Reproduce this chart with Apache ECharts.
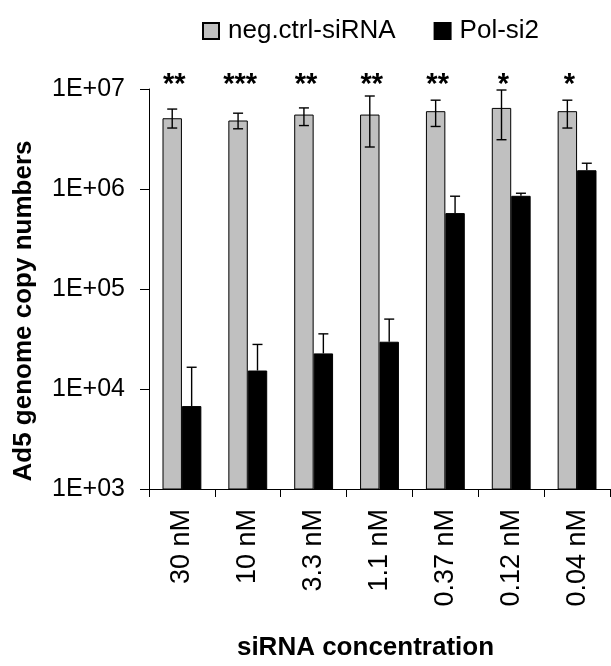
<!DOCTYPE html>
<html><head><meta charset="utf-8">
<script src="https://cdn.jsdelivr.net/npm/echarts@6/dist/echarts.min.js"></script>
<style>html,body{margin:0;padding:0;background:#fff}#c{width:611px;height:666px}</style>
</head><body><div id="c"></div>
<script>
var categories = ['30 nM','10 nM','3.3 nM','1.1 nM','0.37 nM','0.12 nM','0.04 nM'];
var ctrl      = [5.1e6, 4.84e6, 5.55e6, 5.55e6, 6.0e6, 6.47e6, 6.0e6];
var ctrlHigh  = [6.3e6, 5.73e6, 6.47e6, 8.51e6, 7.73e6, 9.77e6, 7.73e6];
var ctrlLow   = [4.07e6, 4.0e6, 4.31e6, 2.63e6, 4.22e6, 3.11e6, 4.07e6];
var pol       = [6.75e3, 1.53e4, 2.27e4, 2.97e4, 5.74e5, 8.55e5, 1.54e6];
var polHigh   = [1.65e4, 2.79e4, 3.56e4, 5.0e4, 8.47e5, 9.07e5, 1.81e6];
var stars     = ['**','***','**','**','**','*','*'];

var FONT = 'Liberation Sans';
var CAT_GAP = 0.41;

function barOffset(band, which) {
  var bw = band * (1 - CAT_GAP) / 2;
  return which === 0 ? -bw / 2 : bw / 2;
}

var errData = [];
for (var i = 0; i < categories.length; i++) {
  errData.push([i, ctrlLow[i], ctrlHigh[i], 0]);
  errData.push([i, pol[i], polHigh[i], 1]);
}
var starData = stars.map(function (s, i) { return [i, 1e7, s]; });

var chart = echarts.init(document.getElementById('c'), null, {renderer: 'canvas'});
chart.setOption({
  animation: false,
  backgroundColor: '#fff',
  textStyle: {fontFamily: FONT},
  legend: {
    left: 197, top: 13,
    icon: 'rect',
    itemWidth: 16, itemHeight: 16, itemGap: 38,
    data: ['neg.ctrl-siRNA', 'Pol-si2'],
    textStyle: {fontFamily: FONT, fontSize: 26, color: '#000', padding: [0, 0, 0, 4]}
  },
  grid: {left: 149, right: 1, top: 89, bottom: 175, containLabel: false},
  xAxis: {
    type: 'category',
    data: categories,
    name: 'siRNA concentration',
    nameLocation: 'middle',
    nameGap: 146,
    nameTextStyle: {fontFamily: FONT, fontSize: 26, fontWeight: 'bold', color: '#000', padding: [0, 28, 0, 0]},
    axisLine: {lineStyle: {color: '#000', width: 1}},
    axisTick: {show: true, length: 8, lineStyle: {color: '#000'}},
    axisLabel: {rotate: 90, margin: 20, fontFamily: FONT, fontSize: 27, color: '#000'}
  },
  yAxis: {
    type: 'log',
    logBase: 10,
    min: 1e3, max: 1e7,
    name: 'Ad5 genome copy numbers',
    nameLocation: 'middle',
    nameGap: 112,
    nameTextStyle: {fontFamily: FONT, fontSize: 26, fontWeight: 'bold', color: '#000', padding: [0, 44, 0, 0]},
    axisLine: {show: true, lineStyle: {color: '#000', width: 1}},
    axisTick: {show: true, length: 9, lineStyle: {color: '#000'}},
    splitLine: {show: false},
    axisLabel: {
      margin: 24, fontFamily: FONT, fontSize: 25, color: '#000',
      formatter: function (v) {
        var e = Math.round(Math.log(v) / Math.LN10);
        return '1E+' + (e < 10 ? '0' : '') + e;
      }
    }
  },
  series: [
    {
      name: 'neg.ctrl-siRNA', type: 'bar', data: ctrl,
      barGap: '0%', barCategoryGap: (CAT_GAP * 100) + '%',
      itemStyle: {color: '#C0C0C0', borderColor: '#000', borderWidth: 1}
    },
    {
      name: 'Pol-si2', type: 'bar', data: pol,
      itemStyle: {color: '#000', borderColor: '#000', borderWidth: 1}
    },
    {
      type: 'custom', data: errData, z: 5, silent: true,
      encode: {x: 0, y: [1, 2]},
      renderItem: function (params, api) {
        var idx = api.value(0);
        var which = api.value(3);
        var lo = api.coord([idx, api.value(1)]);
        var hi = api.coord([idx, api.value(2)]);
        var band = api.size([1, 0])[0];
        var x = lo[0] + barOffset(band, which);
        var cap = 5;
        var st = {stroke: '#000', lineWidth: 1.4};
        var children = [
          {type: 'line', shape: {x1: x, y1: lo[1], x2: x, y2: hi[1]}, style: st},
          {type: 'line', shape: {x1: x - cap, y1: hi[1], x2: x + cap, y2: hi[1]}, style: st}
        ];
        if (which === 0) {
          children.push({type: 'line', shape: {x1: x - cap, y1: lo[1], x2: x + cap, y2: lo[1]}, style: st});
        }
        return {type: 'group', children: children};
      }
    },
    {
      type: 'custom', data: starData, z: 6, silent: true, clip: false,
      encode: {x: 0, y: 1},
      renderItem: function (params, api) {
        var idx = api.value(0);
        var p = api.coord([idx, api.value(1)]);
        var band = api.size([1, 0])[0];
        return {
          type: 'text',
          style: {
            text: stars[idx], x: p[0] + barOffset(band, 0) + 2, y: p[1] - 4,
            fill: '#000', font: 'bold 29px "' + FONT + '"',
            textAlign: 'center', textVerticalAlign: 'middle'
          }
        };
      }
    }
  ]
});
</script></body></html>
